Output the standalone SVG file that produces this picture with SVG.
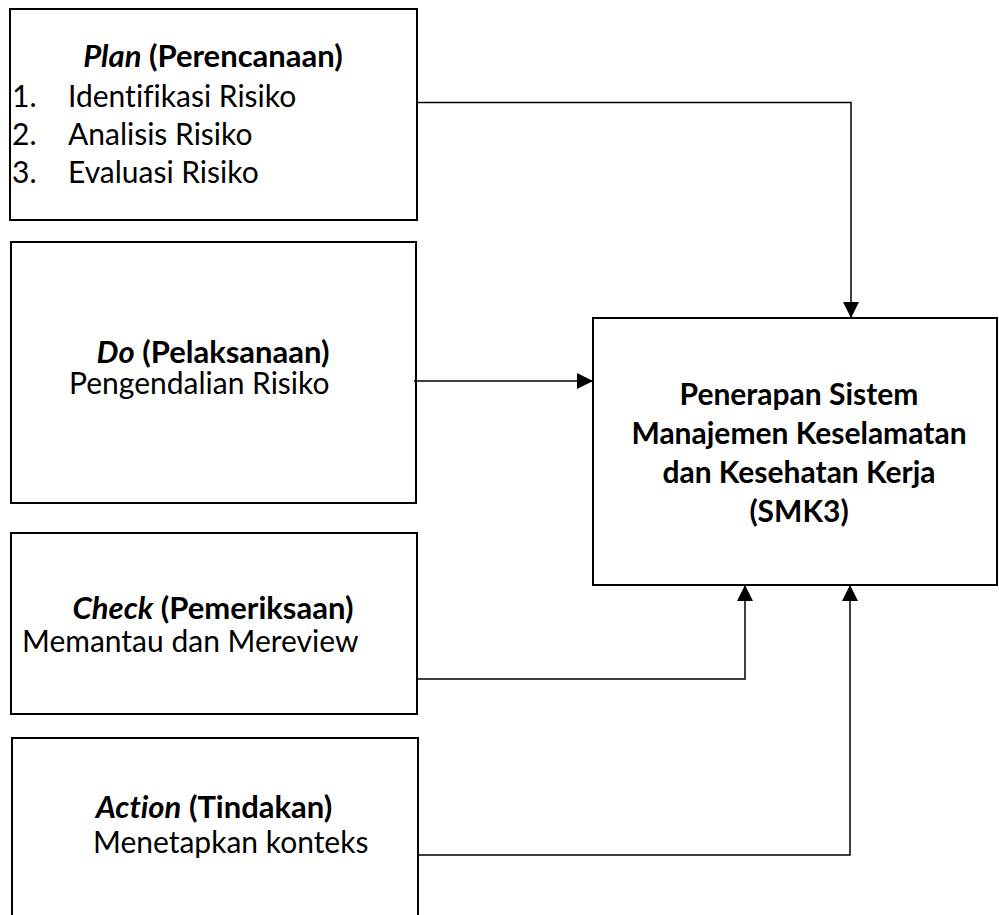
<svg xmlns="http://www.w3.org/2000/svg" width="999" height="915" viewBox="0 0 999 915">
<style>
.box{fill:#fff;stroke:#000;stroke-width:2}
.t{font-family:Lato,"Open Sans","Liberation Sans",sans-serif;font-size:30px;fill:#000;font-variant-ligatures:none}
.b{font-weight:bold}
.h{font-size:31px}
.i{font-style:italic}
.c{text-anchor:middle}
.conn{fill:none;stroke:#000;stroke-width:1.5}
</style>
<defs>
<marker id="arr" markerUnits="userSpaceOnUse" markerWidth="16" markerHeight="16" viewBox="0 0 16 16" refX="16" refY="8" orient="auto">
<path d="M0,0 L16,8 L0,16 Z" fill="#000"/>
</marker>
</defs>
<rect width="999" height="915" fill="#fff"/>
<g id="plan">
<rect class="box" x="10" y="9" width="407" height="211"/>
<text class="t b c h" x="213" y="67"><tspan class="i">Plan</tspan> (Perencanaan)</text>
<text class="t" x="12" y="107">1.</text><text class="t" x="68" y="107">Identifikasi Risiko</text>
<text class="t" x="12" y="145">2.</text><text class="t" x="68" y="145">Analisis Risiko</text>
<text class="t" x="12" y="183">3.</text><text class="t" x="68" y="183">Evaluasi Risiko</text>
</g>
<g id="do">
<rect class="box" x="11" y="242" width="405" height="261"/>
<text class="t b c h" x="213" y="363"><tspan class="i">Do</tspan> (Pelaksanaan)</text>
<text class="t" x="69" y="394">Pengendalian Risiko</text>
</g>
<g id="check">
<rect class="box" x="11" y="533" width="406" height="181"/>
<text class="t b c h" x="213" y="619"><tspan class="i">Check</tspan> (Pemeriksaan)</text>
<text class="t" x="22" y="652">Memantau dan Mereview</text>
</g>
<g id="action">
<rect class="box" x="12" y="738" width="406" height="200"/>
<text class="t b c h" x="214" y="818"><tspan class="i">Action</tspan> (Tindakan)</text>
<text class="t" x="93" y="853">Menetapkan konteks</text>
</g>
<g id="smk3">
<rect class="box" x="593" y="318" width="404" height="267"/>
<text class="t b c" x="799" y="405">Penerapan Sistem</text>
<text class="t b c" x="799" y="444">Manajemen Keselamatan</text>
<text class="t b c" x="799" y="483">dan Kesehatan Kerja</text>
<text class="t b c" x="799" y="522">(SMK3)</text>
</g>
<g id="connectors">
<path class="conn" d="M417,102.5 H851 V318" marker-end="url(#arr)"/>
<path class="conn" d="M414,381 H593" marker-end="url(#arr)"/>
<path class="conn" d="M417,679 H745 V585" marker-end="url(#arr)"/>
<path class="conn" d="M418,855 H850 V585" marker-end="url(#arr)"/>
</g>
</svg>
